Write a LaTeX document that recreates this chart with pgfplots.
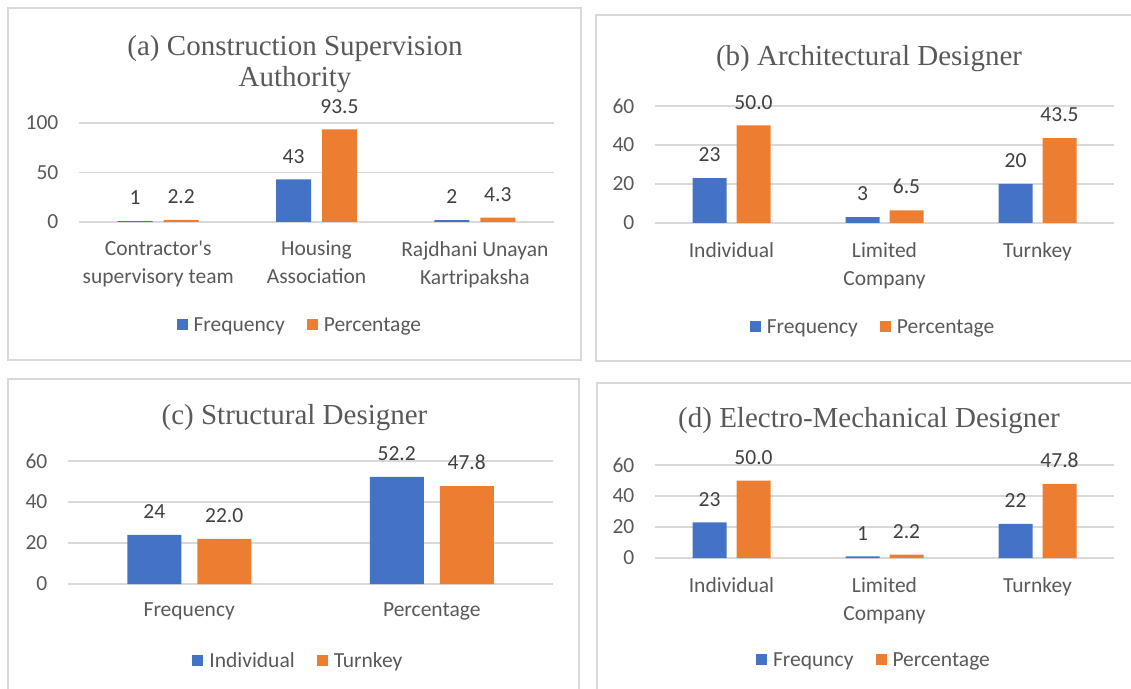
\documentclass[border=0pt]{standalone}
\usepackage{pgfplots}
\pgfplotsset{compat=1.18}
\usepackage{fontspec}
\setmainfont{Carlito}[Ligatures=TeXOff]
\newfontfamily\titlefont{Liberation Serif}
\definecolor{xblue}{HTML}{4472C4}
\definecolor{xorange}{HTML}{ED7D31}
\definecolor{xgrid}{HTML}{D9D9D9}
\definecolor{xtext}{HTML}{595959}
\definecolor{xlabel}{HTML}{404040}
\definecolor{xbox}{HTML}{D9D9D9}

\pgfplotsset{
  panel/.style={
    scale only axis, anchor=south west, clip=false,
    ybar, enlargelimits=false, ymin=0,
    axis line style={draw=none}, major tick length=0pt,
    ymajorgrids, grid style={draw=xgrid, line width=1.5pt},
    /pgf/number format/assume math mode=true,
    ticklabel style={font=\fontsize{21.5}{28}\selectfont, text=xtext},
    yticklabel style={anchor=east, inner sep=0pt, xshift=-20.5pt},
    xticklabel style={anchor=north, inner sep=0pt, yshift=-19pt, align=center},
    legend columns=2,
    legend style={draw=none, fill=none, font=\fontsize{21.5}{25}\selectfont, text=xtext, anchor=center,
      /tikz/every even column/.append style={column sep=20pt}},
    legend image code/.code={\fill[##1] (0pt,-5pt) rectangle (11pt,6pt); \path (0pt,0pt) -- (15pt,0pt);},
    point meta=explicit symbolic,
    nodes near coords,
    every node near coord/.append style={font=\fontsize{21.5}{25}\selectfont, text=xlabel, anchor=south, inner sep=0pt, yshift=16pt},
  },
  blu/.style={fill=xblue, draw=none},
  ora/.style={fill=xorange, draw=none},
}

\begin{document}
\begin{tikzpicture}[x=1pt,y=1pt]
\path[use as bounding box] (0,0) rectangle (1131,688);

% panel borders
\draw[xbox, line width=1.3pt] (8,328) rectangle (581,680);
\draw[xbox, line width=1.3pt] (1140,673) -- (596,673) -- (596,327) -- (1140,327);
\draw[xbox, line width=1.3pt] (8,-5) -- (8,309) -- (579,309) -- (579,-5);
\draw[xbox, line width=1.3pt] (597,-5) -- (597,305) -- (1140,305);

% (a)
\begin{axis}[panel, at={(79pt,466pt)}, width=475pt, height=99pt, bar width=35pt,
  xmin=-0.5, xmax=2.5, ymax=100, ytick={0,50,100}, xtick={0,1,2},
  xticklabels={{Contractor's\\supervisory team},{Housing\\Association},{Rajdhani Unayan\\Kartripaksha}},
  legend style={at={(0.465,-1.040)}}]
\addplot[blu, bar shift=-23pt] table[meta=label] {
x y label
0 1 1
1 43 43
2 2 2
};
\addlegendentry{Frequency}
\addplot[ora, bar shift=23pt] table[meta=label] {
x y label
0 2.2 2.2
1 93.5 93.5
2 4.3 4.3
};
\addlegendentry{Percentage}
\end{axis}

% (b)
\begin{axis}[panel, at={(655pt,465pt)}, width=459pt, height=117pt, bar width=34pt,
  xmin=-0.5, xmax=2.5, ymax=60, ytick={0,20,40,60}, xtick={0,1,2},
  xticklabels={{Individual},{Limited\\Company},{Turnkey}},
  legend style={at={(0.475,-0.889)}}]
\addplot[blu, bar shift=-22pt] table[meta=label] {
x y label
0 23 23
1 3 3
2 20 20
};
\addlegendentry{Frequency}
\addplot[ora, bar shift=22pt] table[meta=label] {
x y label
0 50.0 50.0
1 6.5 6.5
2 43.5 43.5
};
\addlegendentry{Percentage}
\end{axis}

% (c)
\begin{axis}[panel, at={(68pt,104pt)}, width=485pt, height=123pt, bar width=54pt,
  xmin=-0.5, xmax=1.5, ymax=60, ytick={0,20,40,60}, xtick={0,1},
  xticklabels={{Frequency},{Percentage}},
  legend style={at={(0.475,-0.626)}}]
\addplot[blu, bar shift=-35pt] table[meta=label] {
x y label
0 24 24
1 52.2 52.2
};
\addlegendentry{Individual}
\addplot[ora, bar shift=35pt] table[meta=label] {
x y label
0 22.0 22.0
1 47.8 47.8
};
\addlegendentry{Turnkey}
\end{axis}

% (d)
\begin{axis}[panel, at={(655pt,130pt)}, width=459pt, height=93pt, bar width=34pt,
  xmin=-0.5, xmax=2.5, ymax=60, ytick={0,20,40,60}, xtick={0,1,2},
  xticklabels={{Individual},{Limited\\Company},{Turnkey}},
  legend style={at={(0.477,-1.097)}}]
\addplot[blu, bar shift=-22pt] table[meta=label] {
x y label
0 23 23
1 1 1
2 22 22
};
\addlegendentry{Frequncy}
\addplot[ora, bar shift=22pt] table[meta=label] {
x y label
0 50.0 50.0
1 2.2 2.2
2 47.8 47.8
};
\addlegendentry{Percentage}
\end{axis}

% titles
\begin{scope}[every node/.style={anchor=base, text=xtext, font=\titlefont\fontsize{29}{31}\selectfont, inner sep=0pt}]
\node at (295,632) {(a) Construction Supervision};
\node at (295,601) {Authority};
\node at (869,622) {(b) Architectural Designer};
\node at (294.5,263) {(c) Structural Designer};
\node at (869,260) {(d) Electro-Mechanical Designer};
\end{scope}
\end{tikzpicture}
\end{document}
